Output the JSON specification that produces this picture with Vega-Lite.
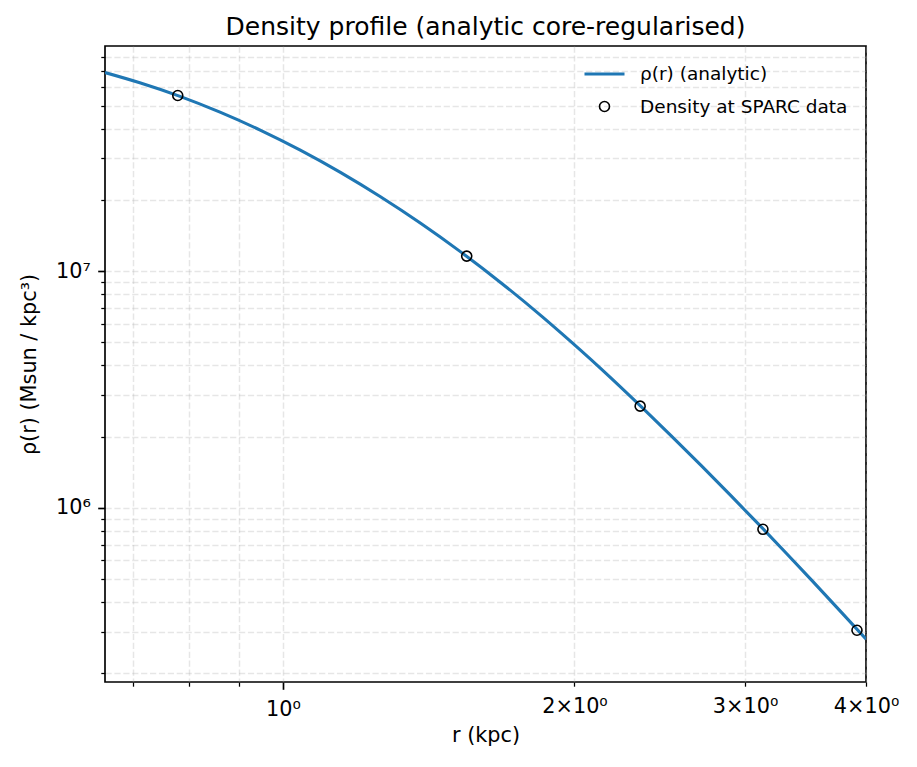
{
  "$schema": "https://vega.github.io/schema/vega-lite/v6.json",
  "width": 761,
  "height": 636,
  "autosize": {"type": "none"},
  "padding": {"left": 105, "top": 46, "right": 51, "bottom": 85},
  "background": "white",
  "title": {
    "text": "Density profile (analytic core-regularised)",
    "font": "DejaVu Sans",
    "fontSize": 25,
    "fontWeight": "normal",
    "color": "black",
    "anchor": "middle",
    "frame": "group",
    "offset": 6
  },
  "config": {
    "view": {"stroke": "black", "strokeWidth": 1.67},
    "axis": {
      "domain": false,
      "grid": true,
      "gridColor": "#b0b0b0",
      "gridOpacity": 0.32,
      "gridWidth": 1.5,
      "gridDash": [6.2, 2.7],
      "tickColor": "black",
      "labelFont": "DejaVu Sans",
      "labelFontSize": 20.8,
      "labelColor": "black",
      "titleFont": "DejaVu Sans",
      "titleFontSize": 20.8,
      "titleFontWeight": "normal",
      "titleColor": "black",
      "labelFlush": false,
      "labelOverlap": false,
      "labelBound": false
    },
    "legend": {
      "orient": "none",
      "legendX": 490.25,
      "legendY": 18.75,
      "padding": 0,
      "title": null,
      "labelFont": "DejaVu Sans",
      "labelFontSize": 18.5,
      "labelColor": "black",
      "labelOffset": 26.25,
      "labelLimit": 400,
      "rowPadding": 13.5,
      "symbolSize": 100
    }
  },
  "datasets": {
    "curve": [
      {"r": 0.655, "rho": 69070000, "series": "ρ(r) (analytic)"},
      {"r": 0.7115, "rho": 62540000, "series": "ρ(r) (analytic)"},
      {"r": 0.7829, "rho": 54790000, "series": "ρ(r) (analytic)"},
      {"r": 0.861, "rho": 46980000, "series": "ρ(r) (analytic)"},
      {"r": 0.9473, "rho": 39460000, "series": "ρ(r) (analytic)"},
      {"r": 1.0421, "rho": 32460000, "series": "ρ(r) (analytic)"},
      {"r": 1.1464, "rho": 26150000, "series": "ρ(r) (analytic)"},
      {"r": 1.261, "rho": 20630000, "series": "ρ(r) (analytic)"},
      {"r": 1.3873, "rho": 15940000, "series": "ρ(r) (analytic)"},
      {"r": 1.5259, "rho": 12070000, "series": "ρ(r) (analytic)"},
      {"r": 1.6788, "rho": 8946000, "series": "ρ(r) (analytic)"},
      {"r": 1.8468, "rho": 6495000, "series": "ρ(r) (analytic)"},
      {"r": 1.9367, "rho": 5490000, "series": "ρ(r) (analytic)"},
      {"r": 2.1307, "rho": 3870000, "series": "ρ(r) (analytic)"},
      {"r": 2.3437, "rho": 2679000, "series": "ρ(r) (analytic)"},
      {"r": 2.5174, "rho": 2014000, "series": "ρ(r) (analytic)"},
      {"r": 2.7039, "rho": 1508000, "series": "ρ(r) (analytic)"},
      {"r": 2.9043, "rho": 1121000, "series": "ρ(r) (analytic)"},
      {"r": 3.1196, "rho": 829400, "series": "ρ(r) (analytic)"},
      {"r": 3.3113, "rho": 642200, "series": "ρ(r) (analytic)"},
      {"r": 3.5145, "rho": 495600, "series": "ρ(r) (analytic)"},
      {"r": 3.7752, "rho": 361400, "series": "ρ(r) (analytic)"},
      {"r": 4.0, "rho": 279100, "series": "ρ(r) (analytic)"}
    ],
    "sparc": [
      {"r": 0.7787, "rho": 55240000, "series": "Density at SPARC data"},
      {"r": 1.5479, "rho": 11580000, "series": "Density at SPARC data"},
      {"r": 2.338, "rho": 2692000, "series": "Density at SPARC data"},
      {"r": 3.1306, "rho": 812400, "series": "Density at SPARC data"},
      {"r": 3.915, "rho": 304400, "series": "Density at SPARC data"}
    ]
  },
  "layer": [
    {
      "data": {"name": "curve"},
      "mark": {"type": "line", "interpolate": "monotone", "clip": true, "strokeWidth": 3.1},
      "encoding": {
        "x": {
          "field": "r",
          "type": "quantitative",
          "scale": {"type": "log", "domain": [0.655, 4.0], "nice": false},
          "axis": {
            "title": "r (kpc)",
            "values": [0.7, 0.8, 0.9, 1, 2, 3, 4],
            "labelExpr": "datum.value == 1 ? '10⁰' : datum.value == 2 ? '2×10⁰' : datum.value == 3 ? '3×10⁰' : datum.value == 4 ? '4×10⁰' : ''",
            "tickSize": {"condition": {"test": "datum.value == 1", "value": 7.3}, "value": 4.2},
            "tickWidth": {"condition": {"test": "datum.value == 1", "value": 1.67}, "value": 1.25},
            "labelPadding": 10,
            "titlePadding": 6
          }
        },
        "y": {
          "field": "rho",
          "type": "quantitative",
          "scale": {"type": "log", "domain": [184000, 89400000], "nice": false},
          "axis": {
            "title": "ρ(r) (Msun / kpc³)",
            "values": [200000, 300000, 400000, 500000, 600000, 700000, 800000, 900000, 1000000, 2000000, 3000000, 4000000, 5000000, 6000000, 7000000, 8000000, 9000000, 10000000, 20000000, 30000000, 40000000, 50000000, 60000000, 70000000, 80000000],
            "labelExpr": "datum.value == 1000000 ? '10⁶' : datum.value == 10000000 ? '10⁷' : ''",
            "tickSize": {"condition": {"test": "datum.value == 1000000 || datum.value == 10000000", "value": 7.3}, "value": 4.2},
            "tickWidth": {"condition": {"test": "datum.value == 1000000 || datum.value == 10000000", "value": 1.67}, "value": 1.25},
            "labelPadding": 7.3,
            "titlePadding": 16
          }
        },
        "stroke": {
          "field": "series",
          "type": "nominal",
          "scale": {"domain": ["ρ(r) (analytic)", "Density at SPARC data"], "range": ["#1f77b4", "black"]},
          "legend": {
            "encode": {
              "symbols": {
                "update": {
                  "strokeWidth": {"signal": "datum.value === 'Density at SPARC data' ? 1.6 : 3.1"}
                }
              }
            }
          }
        }
      }
    },
    {
      "data": {"name": "sparc"},
      "mark": {"type": "point", "filled": false, "size": 100, "opacity": 1, "strokeWidth": 1.6},
      "encoding": {
        "x": {"field": "r", "type": "quantitative"},
        "y": {"field": "rho", "type": "quantitative"},
        "stroke": {"field": "series", "type": "nominal"},
        "shape": {
          "field": "series",
          "type": "nominal",
          "scale": {"domain": ["ρ(r) (analytic)", "Density at SPARC data"], "range": ["M-4,0H4", "circle"]}
        }
      }
    }
  ]
}
